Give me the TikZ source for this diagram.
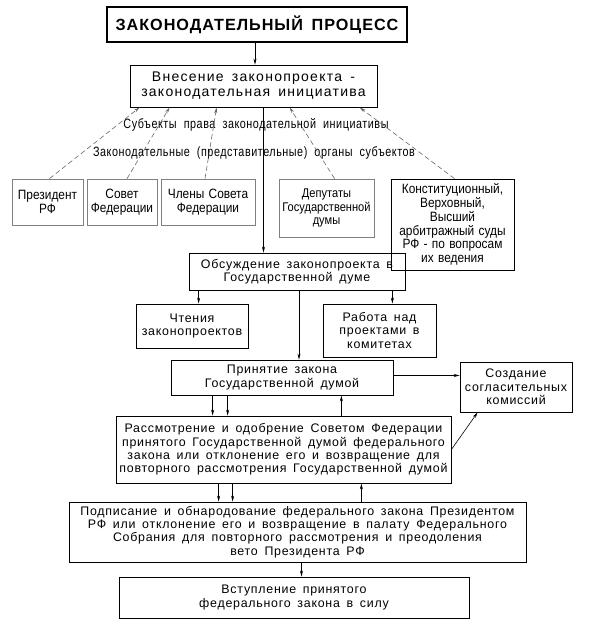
\documentclass[tikz,border=0pt]{standalone}
\usepackage{fontspec}
\setmainfont{Liberation Sans}[LetterSpace=6,WordSpace=1.6]
\newfontfamily\condfont{Liberation Sans}[FakeStretch=0.88,WordSpace=1.3]
\newfontfamily\condwidefont{Liberation Sans}[FakeStretch=0.8,LetterSpace=4,WordSpace=2]
\newfontfamily\widefont{Liberation Sans}[LetterSpace=9,WordSpace=1.6]
\usetikzlibrary{arrows.meta}

\begin{document}
\begin{tikzpicture}[x=1pt,y=-1pt,
		box/.style={draw,line width=0.8pt,align=center,inner sep=0pt,font=\fontsize{12.4}{13.3}\selectfont},
		grbox/.style={box,draw=black!50,font=\condfont\fontsize{13.5}{13.8}\selectfont},
		lbl/.style={font=\condwidefont\fontsize{13.5}{14}\selectfont},
		arr/.style={-{Stealth[length=6pt,width=3pt]},line width=0.6pt},
		darr/.style={arr,dash pattern=on 5pt off 3pt,black!60}]
		\useasboundingbox (0,0) rectangle (612,640);
		\node[box,line width=2.2pt,minimum width=300,minimum height=35,font=\bfseries\fontsize{16.2}{18}\selectfont] (title) at (257,24.5) {ЗАКОНОДАТЕЛЬНЫЙ ПРОЦЕСС};
		\node[box,minimum width=247,minimum height=42,font=\widefont\fontsize{14}{15}\selectfont] (vnes) at (253.5,86) {Внесение законопроекта -\\законодательная инициатива};
		% subjects
		\node[grbox,minimum width=71,minimum height=46] (prez) at (47.5,202) {Президент\\РФ};
		\node[grbox,minimum width=70,minimum height=46] (sovet) at (122,202) {Совет\\Федерации};
		\node[grbox,minimum width=94,minimum height=46] (chleny) at (208,202) {Члены Совета\\Федерации};
		\node[grbox,minimum width=95,minimum height=58,font=\condfont\fontsize{12.6}{13.8}\selectfont] (dep) at (326.5,208) {Депутаты\\Государственной\\думы};
		\node[grbox,draw=black,minimum width=123,minimum height=91] (sud) at (452.5,224.5) {Конституционный,\\Верховный,\\Высший\\арбитражный суды\\РФ - по вопросам\\их ведения};
		\node[lbl] (subj) at (256,125) {Субъекты права законодательной инициативы};
		\node[lbl] (organy) at (254,153) {Законодательные (представительные) органы субъектов};
		% duma
		\node[box,minimum width=216,minimum height=37] (obs) at (297,271.5) {Обсуждение законопроекта в\\Государственной думе};
		\node[box,minimum width=112,minimum height=44] (chten) at (192,326) {Чтения\\законопроектов};
		\node[box,minimum width=113,minimum height=53] (rab) at (379.5,330.5) {Работа над\\проектами в\\комитетах};
		\node[box,minimum width=222,minimum height=35] (prin) at (282,377.5) {Принятие закона\\Государственной думой};
		\node[box,minimum width=112,minimum height=50] (sozd) at (516,387) {Создание\\согласительных\\комиссий};
		\node[box,minimum width=335,minimum height=67] (rassm) at (283.5,449.5) {Рассмотрение и одобрение Советом Федерации\\принятого Государственной думой федерального\\закона или отклонение его и возвращение для\\повторного рассмотрения Государственной думой};
		\node[box,minimum width=457,minimum height=60] (podp) at (297.5,532) {Подписание и обнародование федерального закона Президентом\\РФ или отклонение его и возвращение в палату Федерального\\Собрания для повторного рассмотрения и преодоления\\вето Президента РФ};
		\node[box,minimum width=350,minimum height=41] (vstup) at (294,597.5) {Вступление принятого\\федерального закона в силу};

		\draw[arr] ([xshift=-2]title.south) -- ([xshift=-2]title.south |- vnes.north);
		\draw[darr] ([xshift=2]prez.north) -- ([xshift=10]vnes.south west);
		\draw[darr] ([xshift=5]sovet.north) -- ([xshift=40]vnes.south west);
		\draw[darr] ([xshift=-3]chleny.north) -- ([xshift=87]vnes.south west);
		\draw[darr] ([xshift=8]dep.north) -- ([xshift=160]vnes.south west);
		\draw[darr] ([xshift=2]sud.north) -- ([xshift=230]vnes.south west);
		\draw[arr] ([xshift=10]vnes.south) -- ([xshift=10]vnes.south |- obs.north);
		\draw[arr] ([xshift=10]obs.south west) -- ([xshift=10]obs.south west |- chten.north);
		\draw[arr] ([xshift=-13]obs.south east) -- ([xshift=-13]obs.south east |- rab.north);
		\draw[arr] ([xshift=2]obs.south) -- ([xshift=2]obs.south |- prin.north);
		\draw[arr] ([yshift=2]prin.east) -- ([yshift=2]prin.east -| sozd.west);
		\draw[arr] ([xshift=42]prin.south west) -- ([xshift=42]prin.south west |- rassm.north);
		\draw[arr] ([xshift=57]prin.south west) -- ([xshift=57]prin.south west |- rassm.north);
		\draw[arr] ([xshift=-110]rassm.north east) -- ([xshift=-110]rassm.north east |- prin.south);
		\draw[arr] (rassm.east) -- ([xshift=18]sozd.south west);
		\draw[arr] ([xshift=103]rassm.south west) -- ([xshift=103]rassm.south west |- podp.north);
		\draw[arr] ([xshift=117]rassm.south west) -- ([xshift=117]rassm.south west |- podp.north);
		\draw[arr] ([xshift=-90]rassm.south east |- podp.north) -- ([xshift=-90]rassm.south east);
		\draw[arr] ([xshift=4]podp.south) -- ([xshift=4]podp.south |- vstup.north);
	\end{tikzpicture}
\end{document}
